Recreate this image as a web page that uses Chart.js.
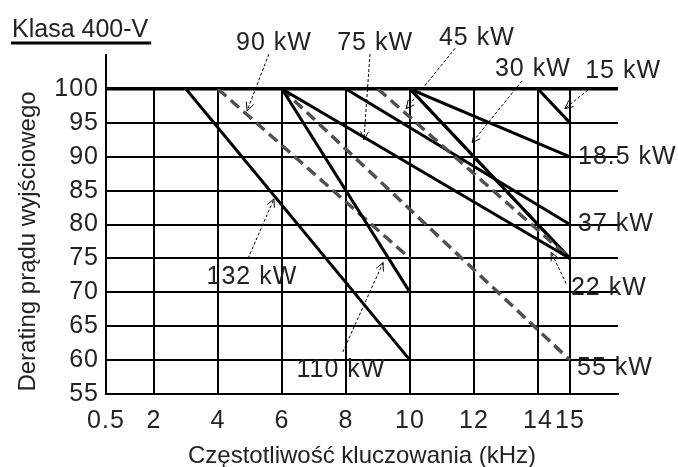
<!DOCTYPE html>
<html>
<head>
<meta charset="utf-8">
<title>Klasa 400-V</title>
<script src="https://cdn.jsdelivr.net/npm/chart.js@4.4.1/dist/chart.umd.min.js"></script>
<style>
  html, body { margin: 0; padding: 0; background: #fff; }
  canvas { display: block; }
</style>
</head>
<body>
<canvas id="derating" width="678" height="467"></canvas>
<script>
// Data
const series = ["132 kW", "110 kW", "90 kW", "75 kW", "55 kW", "45 kW", "37 kW", "30 kW", "22 kW", "18.5 kW", "15 kW"];
const kneeKHz = [3, 6, 4, 6, 6, 9, 8, 10, 10, 10, 14];   // where derating starts (100 %)
const endKHz = [10, 10, 10, 15, 15, 15, 15, 15, 15, 15, 15];
const endLevel = [60, 70, 75, 75, 60, 75, 80, 75, 75, 90, 95];
const fullLevel = 100;

const xTicks = [0.5, 2, 4, 6, 8, 10, 12, 14, 15];
const yTicks = [55, 60, 65, 70, 75, 80, 85, 90, 95, 100];

// dashed (grey) curves
const dashedSeries = ["90 kW", "55 kW", "45 kW"];

// callouts: label spot and arrow, in kHz / % units
const notes = [
  { text: "90 kW", at: [5.75, 106.8], from: [5.59, 105.15], to: [4.91, 96.8] },
  { text: "75 kW", at: [8.91, 106.8], from: [8.75, 105.15], to: [8.56, 92.5] },
  { text: "45 kW", at: [12.09, 107.5], from: [11.41, 106.0], to: [9.88, 97.1] },
  { text: "30 kW", at: [13.84, 102.9], from: [13.5, 101.2], to: [11.94, 92.1] },
  { text: "15 kW", at: [16.66, 102.65], from: [15.56, 99.85], to: [14.84, 97.1] },
  { text: "18.5 kW", at: [15.25, 90.0], align: "left" },
  { text: "37 kW", at: [15.25, 80.0], align: "left" },
  { text: "22 kW", at: [15.03, 70.6], align: "left", from: [14.88, 71.3], to: [14.41, 75.9] },
  { text: "55 kW", at: [15.22, 58.8], align: "left" },
  { text: "132 kW", at: [5.06, 72.2], from: [4.94, 75.0], to: [5.75, 83.8] },
  { text: "110 kW", at: [7.84, 58.5], from: [7.9, 61.2], to: [9.16, 74.4] }
];

const FONT = "'Liberation Sans', Arial, sans-serif";
const INK = "#222";
const SPACING = "1px";
Chart.defaults.font.family = FONT;
Chart.defaults.color = INK;

const datasets = series.map((name, i) => {
  const dashed = dashedSeries.includes(name);
  return {
    label: name,
    data: [
      { x: kneeKHz[i], y: fullLevel },
      { x: endKHz[i], y: endLevel[i] }
    ],
    showLine: true,
    borderColor: dashed ? "#505050" : "#000",
    borderWidth: dashed ? 3.5 : 3,
    borderDash: dashed ? [11, 6] : [],
    pointRadius: 0,
    pointHoverRadius: 0
  };
});

function arrow(ctx, x1, y1, x2, y2) {
  ctx.save();
  ctx.strokeStyle = "#000";
  ctx.lineWidth = 1;
  ctx.setLineDash([3, 2]);
  ctx.beginPath();
  ctx.moveTo(x1, y1);
  ctx.lineTo(x2, y2);
  ctx.stroke();
  ctx.setLineDash([]);
  const a = Math.atan2(y2 - y1, x2 - x1);
  const len = 9;
  ctx.beginPath();
  ctx.moveTo(x2 - len * Math.cos(a - 0.45), y2 - len * Math.sin(a - 0.45));
  ctx.lineTo(x2, y2);
  ctx.lineTo(x2 - len * Math.cos(a + 0.45), y2 - len * Math.sin(a + 0.45));
  ctx.stroke();
  ctx.restore();
}

const extras = {
  id: "extras",
  afterDatasetsDraw(chart) {
    // tick labels are drawn after this (ticks.z = 1), give them the wide look of the original
    chart.ctx.letterSpacing = SPACING;
  },
  afterDraw(chart) {
    const { ctx, scales: { x, y } } = chart;
    ctx.save();

    // left axis goes on above 100 %
    ctx.strokeStyle = "#000";
    ctx.lineWidth = 2;
    ctx.beginPath();
    ctx.moveTo(x.left, y.top);
    ctx.lineTo(x.left, y.getPixelForValue(105.15));
    ctx.stroke();

    // underline under the title
    const t = chart.titleBlock;
    ctx.font = "25px " + FONT;
    ctx.letterSpacing = "0px";
    const w = ctx.measureText("Klasa 400-V").width;
    ctx.lineWidth = 3;
    ctx.beginPath();
    ctx.moveTo(t.left - 1, 43);
    ctx.lineTo(t.left + w + 3, 43);
    ctx.stroke();

    // callouts
    ctx.letterSpacing = SPACING;
    ctx.font = "25px " + FONT;
    ctx.fillStyle = INK;
    ctx.textBaseline = "middle";
    notes.forEach((n) => {
      if (n.from) {
        arrow(ctx,
          x.getPixelForValue(n.from[0]), y.getPixelForValue(n.from[1]),
          x.getPixelForValue(n.to[0]), y.getPixelForValue(n.to[1]));
      }
      ctx.textAlign = n.align || "center";
      ctx.fillText(n.text, x.getPixelForValue(n.at[0]), y.getPixelForValue(n.at[1]));
    });

    ctx.restore();
    ctx.letterSpacing = "0px";
  }
};

new Chart(document.getElementById("derating"), {
  type: "scatter",
  data: { datasets },
  options: {
    responsive: false,
    animation: false,
    devicePixelRatio: 1,
    layout: { padding: { left: 12, right: 60, top: 0, bottom: 0 } },
    plugins: {
      legend: { display: false },
      tooltip: { enabled: false },
      title: {
        display: true,
        text: "Klasa 400-V",
        align: "start",
        color: INK,
        font: { size: 25, weight: "normal" },
        padding: { top: 15, bottom: 44 }
      }
    },
    scales: {
      x: {
        type: "linear",
        min: 0.5,
        max: 16.5,
        afterBuildTicks: (scale) => {
          scale.ticks = xTicks.map((v) => ({ value: v }));
        },
        afterFit: (scale) => { scale.height = 73; },
        ticks: {
          z: 1,
          padding: 12,
          autoSkip: false,
          maxRotation: 0,
          color: INK,
          font: { size: 25 },
          callback: (v) => String(v)
        },
        grid: { color: "#000", lineWidth: 2, drawTicks: false },
        border: { color: "#000", width: 2 },
        title: {
          display: true,
          text: "Częstotliwość kluczowania (kHz)",
          color: INK,
          font: { size: 24, lineHeight: 0.85 },
          padding: { top: 0, bottom: 0 }
        }
      },
      y: {
        type: "linear",
        min: 55,
        max: 100,
        afterBuildTicks: (scale) => {
          scale.ticks = yTicks.map((v) => ({ value: v }));
        },
        afterFit: (scale) => { scale.width = 94; },
        ticks: {
          z: 1,
          padding: 7,
          color: INK,
          font: { size: 25 },
          callback: (v) => String(v)
        },
        grid: {
          color: "#000",
          lineWidth: (c) => (c.tick && c.tick.value === 100 ? 3.5 : 2),
          drawTicks: false
        },
        border: { color: "#000", width: 2 },
        title: {
          display: true,
          text: "Derating prądu wyjściowego",
          color: INK,
          font: { size: 24 },
          padding: { top: 2, bottom: 0 }
        }
      }
    }
  },
  plugins: [extras]
});
</script>
</body>
</html>
